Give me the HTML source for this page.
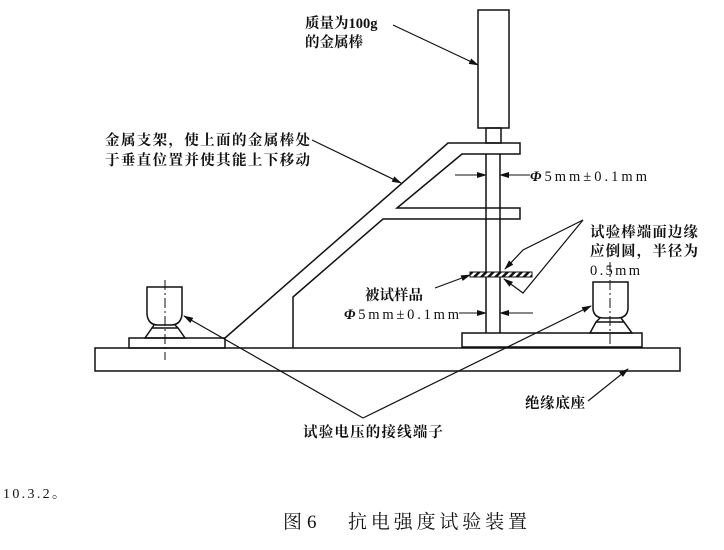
<!DOCTYPE html>
<html><head><meta charset="utf-8"><style>
html,body{margin:0;padding:0;background:#fff;}
svg{display:block}
text{font-family:"Liberation Serif","Noto Serif CJK SC","Noto Sans CJK SC",serif;fill:#111;}
.b{font-weight:bold;}
</style></head><body>
<svg width="724" height="550" viewBox="0 0 724 550" xmlns="http://www.w3.org/2000/svg">
<defs>
<marker id="ar" markerWidth="10" markerHeight="6" refX="9" refY="3" orient="auto" markerUnits="userSpaceOnUse">
<path d="M0,0 L10,3 L0,6 z" fill="#111"/></marker>
<pattern id="hat" width="5" height="5" patternUnits="userSpaceOnUse" patternTransform="rotate(45)">
<rect width="5" height="5" fill="#fff"/><rect width="2.5" height="5" fill="#111"/></pattern>
</defs>
<g stroke="#111" stroke-width="1.5" fill="none">
<rect x="95" y="348" width="585" height="23" fill="#fff"/>
<rect x="129" y="338" width="96" height="10"/>
<rect x="462" y="333" width="180" height="14"/>
<rect x="478" y="10" width="31" height="118"/>
<rect x="486" y="128" width="15" height="15"/>
<line x1="486" y1="154" x2="486" y2="333"/>
<line x1="500" y1="154" x2="500" y2="333"/>
<polyline points="225,338 448,143 520,143 520,154 462,154 397,208 520,208 520,219 383,219 293,297 293,348"/>
<path d="M147,287 L182,287 L182,314 Q181,325 171,325 L158,325 Q148,325 147,314 Z"/>
<path d="M152,328 L178,328 L185,338 L145,338 Z"/>
<line x1="154" y1="325" x2="152" y2="328"/><line x1="175" y1="325" x2="178" y2="328"/>
<line x1="165" y1="280" x2="165" y2="360" stroke-dasharray="10,3,2,3" stroke-width="1"/>
<path d="M593,282 L628,282 L628,309 Q627,318 617,318 L604,318 Q594,318 593,309 Z"/>
<path d="M596,322 L624,322 L632,333 L590,333 Z"/>
<line x1="600" y1="318" x2="596" y2="322"/><line x1="621" y1="318" x2="624" y2="322"/>
<line x1="610" y1="262" x2="610" y2="345" stroke-dasharray="10,3,2,3" stroke-width="1"/>
<rect x="470" y="272" width="62" height="5" fill="url(#hat)" stroke-width="1"/>
<line x1="455" y1="175" x2="486" y2="175" marker-end="url(#ar)" stroke-width="1"/>
<line x1="530" y1="175" x2="500" y2="175" marker-end="url(#ar)" stroke-width="1"/>
<line x1="459" y1="313" x2="486" y2="313" marker-end="url(#ar)" stroke-width="1"/>
<line x1="533" y1="313" x2="500" y2="313" marker-end="url(#ar)" stroke-width="1"/>
<line x1="393" y1="25" x2="478" y2="65" marker-end="url(#ar)" stroke-width="1.2"/>
<line x1="312" y1="140" x2="401" y2="183" marker-end="url(#ar)" stroke-width="1.2"/>
<polyline points="583,220 523,250 505,269" marker-end="url(#ar)" stroke-width="1.2"/>
<polyline points="583,220 523,293 504,279" marker-end="url(#ar)" stroke-width="1.2"/>
<line x1="435" y1="288" x2="470" y2="275" marker-end="url(#ar)" stroke-width="1.2"/>
<line x1="363" y1="418" x2="184" y2="316" marker-end="url(#ar)" stroke-width="1.2"/>
<line x1="363" y1="418" x2="591" y2="306" marker-end="url(#ar)" stroke-width="1.2"/>
<line x1="588" y1="401" x2="628" y2="369" marker-end="url(#ar)" stroke-width="1.2"/>
</g>
<g font-size="14.5">
<text x="305" y="28" class="b">质量为100g</text>
<text x="305" y="47" class="b">的金属棒</text>
<text x="105" y="145" class="b" textLength="205">金属支架，使上面的金属棒处</text>
<text x="105" y="165" class="b" textLength="205">于垂直位置并使其能上下移动</text>
<text x="530" y="181" textLength="117"><tspan font-style="italic" font-weight="bold">Φ</tspan>5mm±0.1mm</text>
<text x="590" y="237" class="b" textLength="108">试验棒端面边缘</text>
<text x="590" y="256" class="b" textLength="108">应倒圆，半径为</text>
<text x="590" y="275" textLength="50">0.5mm</text>
<text x="365" y="300" class="b">被试样品</text>
<text x="344" y="319" textLength="115"><tspan font-style="italic" font-weight="bold">Φ</tspan>5mm±0.1mm</text>
<text x="525" y="408" class="b" textLength="60">绝缘底座</text>
<text x="303" y="437" class="b" textLength="140">试验电压的接线端子</text>
<text x="3" y="498" font-size="14" textLength="63">10.3.2。</text>
</g>
<text x="283" y="528" font-size="19">图</text>
<text x="307" y="528" font-size="19">6</text>
<text x="348" y="528" font-size="19" textLength="179">抗电强度试验装置</text>
</svg>
</body></html>
